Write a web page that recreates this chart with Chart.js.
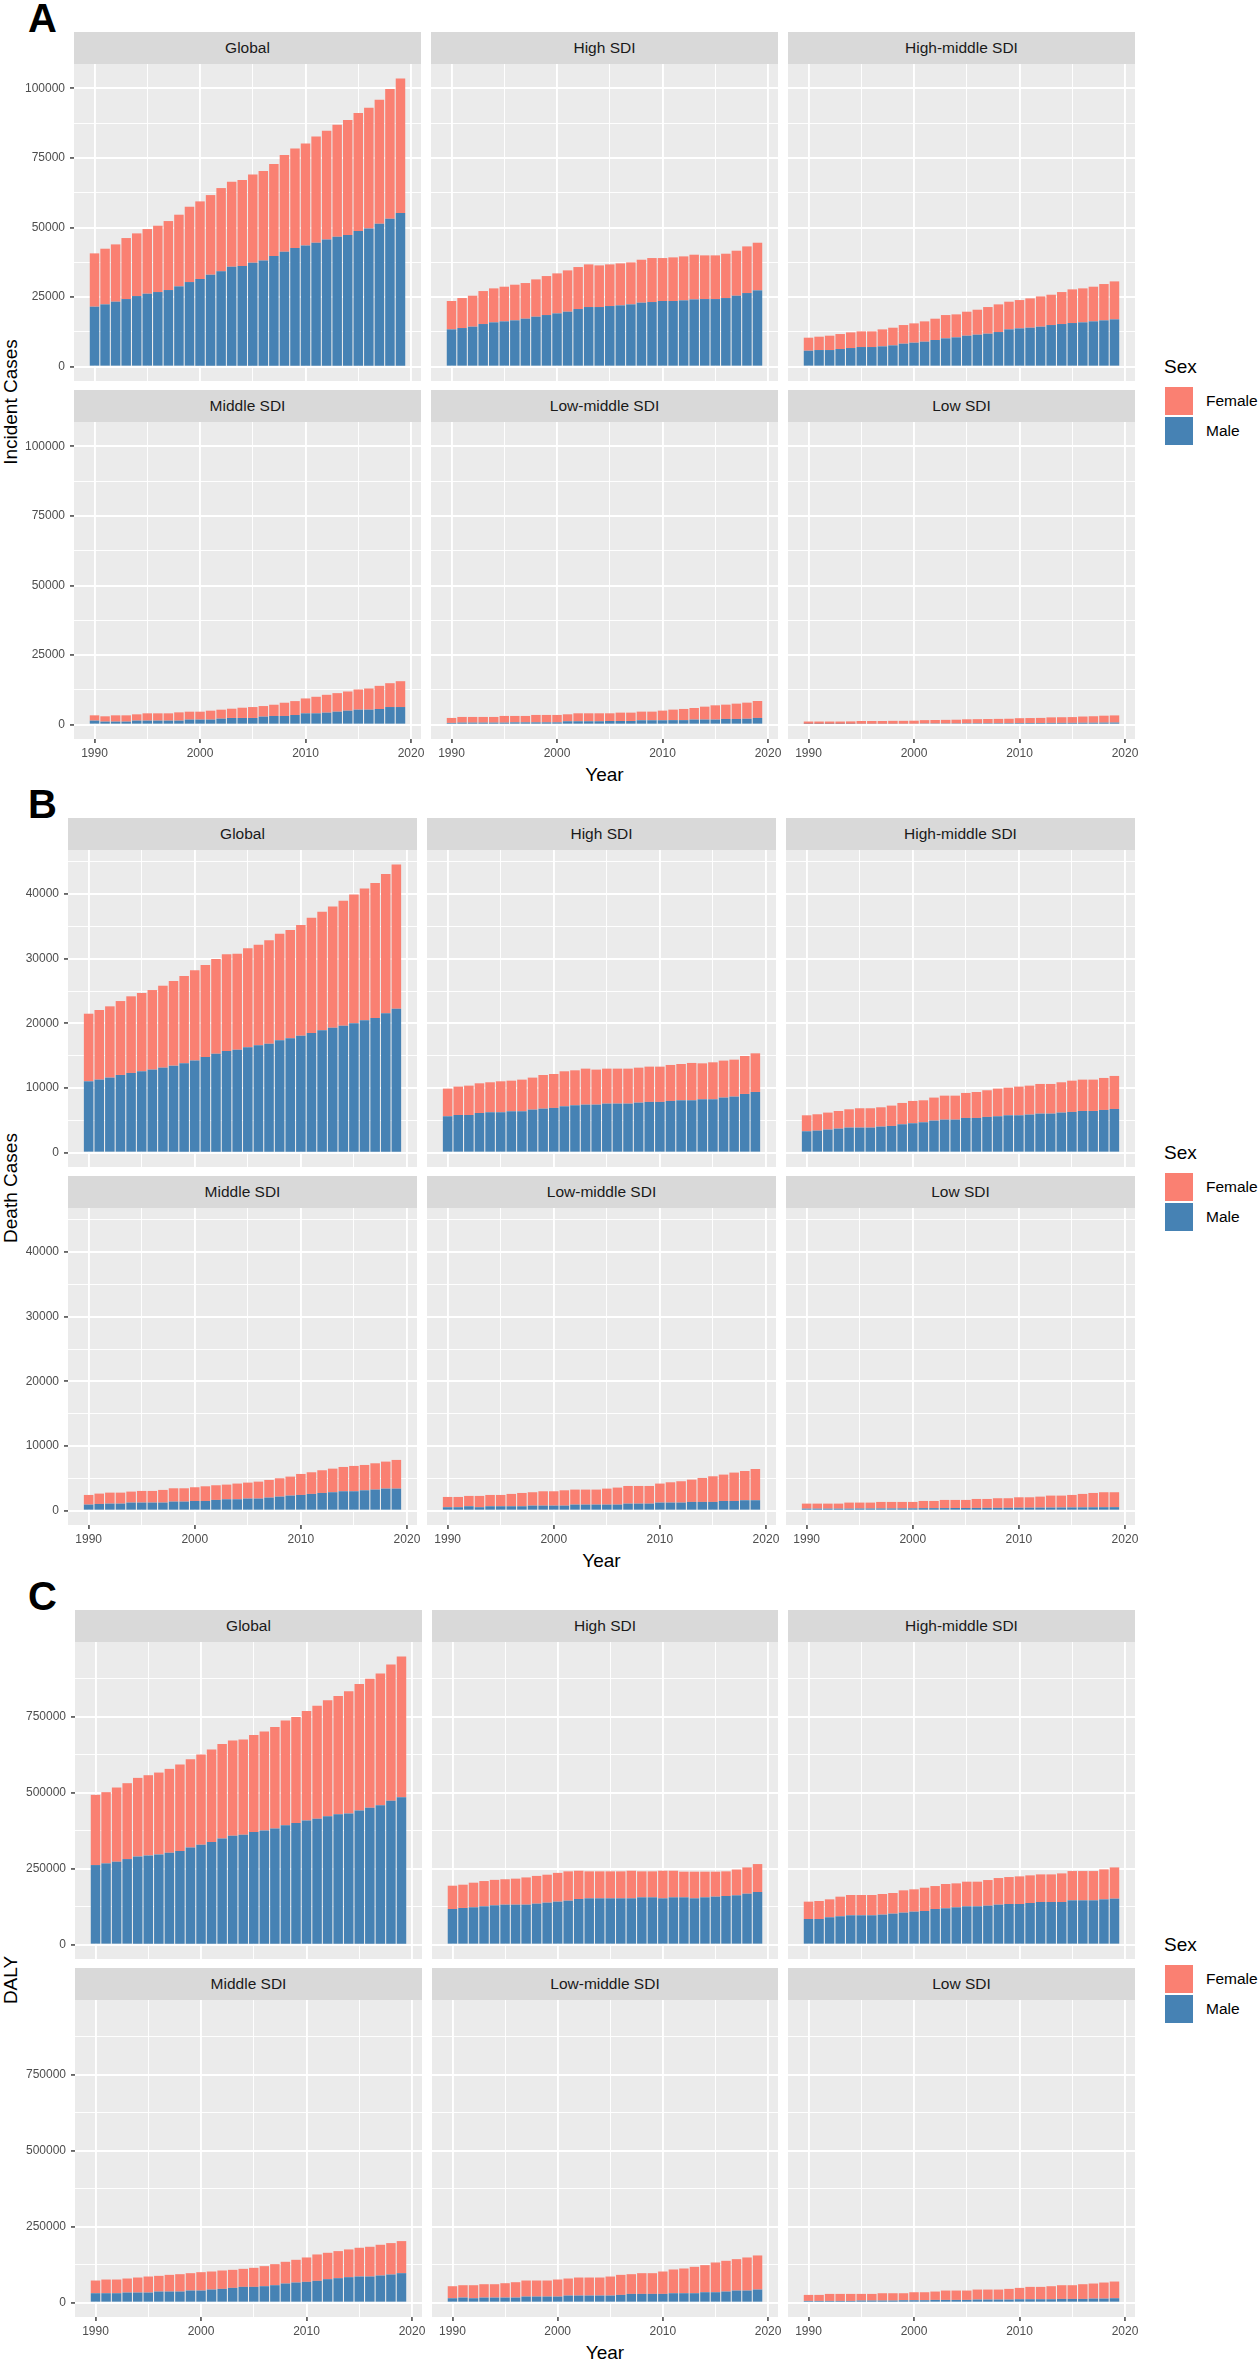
<!DOCTYPE html>
<html>
<head>
<meta charset="utf-8">
<script src="https://cdn.jsdelivr.net/npm/chart.js@4.4.1/dist/chart.umd.min.js"></script>
<style>
html,body{margin:0;padding:0;background:#fff;}
#root{position:relative;width:1259px;height:2362px;overflow:hidden;font-family:'Liberation Sans',Arial,Helvetica,sans-serif;}
.strip{position:absolute;background:#D9D9D9;color:#1A1A1A;font-size:15.5px;display:flex;align-items:center;justify-content:center;white-space:nowrap;}
.letter{position:absolute;font-weight:bold;font-size:40px;line-height:40px;color:#000;}
.ytitle{position:absolute;font-size:19px;color:#000;white-space:nowrap;transform:translate(-50%,-50%) rotate(-90deg);}
.xtitle{position:absolute;font-size:19px;color:#000;white-space:nowrap;transform:translate(-50%,-50%);}
.legtitle{position:absolute;font-size:19px;color:#000;white-space:nowrap;transform:translateY(-50%);}
.legtext{position:absolute;font-size:15.5px;color:#000;white-space:nowrap;transform:translateY(-50%);}
.legkey{position:absolute;width:28px;height:28px;}
canvas{position:absolute;}
</style>
</head>
<body>
<div id="root"></div>
<script>
// ---------- DATA ----------
const years = [1990,1991,1992,1993,1994,1995,1996,1997,1998,1999,2000,2001,2002,2003,2004,2005,2006,2007,2008,2009,2010,2011,2012,2013,2014,2015,2016,2017,2018,2019];
const regions = ['Global','High SDI','High-middle SDI','Middle SDI','Low-middle SDI','Low SDI'];
const sexLabels = ['Female','Male'];
const yearTicks = [1990, 2000, 2010, 2020];
const incidentTicks = [0, 25000, 50000, 75000, 100000];
const deathTicks = [0, 10000, 20000, 30000, 40000];
const dalyTicks = [0, 250000, 500000, 750000];

// A: Incident Cases
const incGlobalMale = [21530,22370,23330,24280,25360,26200,26800,27520,28840,30390,31470,33030,34230,35910,36150,37340,38180,39740,41300,42620,43570,44530,45730,46690,47290,48720,49680,51360,53160,55190];
const incGlobalFemale = [19170,20010,20600,21930,22530,23240,23840,24800,25760,27080,27920,28630,29950,30550,30910,31750,32110,33070,34740,35820,36660,38220,39060,40250,41330,42420,43370,44570,46600,48410];
const incHighMale = [13380,13860,14340,15300,15900,16260,16620,17220,17930,18530,19130,19730,20690,21410,21410,21770,22010,22370,22970,23210,23570,23570,23810,24160,24280,24280,24640,25480,26440,27400];
const incHighFemale = [10190,10780,11140,11860,12220,12460,12820,12820,13420,14020,14380,14860,15100,15330,14970,14970,15090,15090,15450,15810,15450,15690,15810,16060,15700,15700,15940,16180,16770,17130];
const incHighMidMale = [5710,5950,5950,6310,6670,7030,7030,7270,7630,8230,8590,8950,9550,10150,10510,11110,11470,11830,12420,13380,13740,13980,14340,14940,15300,15660,15900,16260,16620,16980];
const incHighMidFemale = [4680,4800,5160,5390,5630,5630,5630,6110,6350,6710,6950,7310,7670,8380,8260,8620,8980,9580,9950,9950,10180,10540,10900,10900,11500,12100,12220,12460,13060,13650];
const incMiddleMale = [1430,1070,1070,1070,1430,1430,1430,1430,1430,1790,1790,1790,2140,2380,2380,2380,2860,3100,3100,3450,4050,4050,4290,4640,5000,5360,5360,5600,6310,6310];
const incMiddleFemale = [1900,1910,2260,2260,2260,2620,2620,2620,2970,2850,2850,3210,3220,3330,3690,3930,3810,4040,4760,5000,5350,5950,6420,6670,6900,7260,7620,8330,8570,9290];
const incLowMidMale = [600,700,700,700,700,700,800,800,800,800,800,1200,1200,1200,1200,1300,1300,1300,1550,1550,1550,1600,1600,1800,1800,1800,2030,2030,2100,2390];
const incLowMidFemale = [1790,2050,2050,2050,2050,2410,2310,2310,2670,2670,2670,2500,2860,2860,2860,2760,3000,3000,3110,3110,3470,3780,4020,4170,4650,5130,5140,5500,5790,6090];
const incLowMale = [250,250,250,250,260,300,300,300,300,310,320,420,430,440,450,480,490,500,510,520,560,570,580,600,610,620,650,660,700,720];
const incLowFemale = [850,850,850,850,890,1000,1000,1000,1050,1040,1080,1180,1220,1260,1300,1420,1460,1500,1540,1580,1740,1780,1820,2000,2040,2080,2250,2340,2500,2580];

// B: Death Cases
const dthGlobalMale = [11030,11290,11600,12010,12320,12580,12840,13140,13450,13810,14230,14790,15310,15720,15930,16290,16600,16860,17370,17680,18090,18510,18920,19330,19640,20000,20460,20820,21550,22270];
const dthGlobalFemale = [10460,10770,11030,11440,11860,12110,12310,12680,13100,13510,13970,14230,14640,14950,14840,15310,15560,15980,16500,16750,17120,17830,18350,18760,19330,19950,20420,20880,21540,22320];
const dthHighMale = [5620,5820,5820,6130,6240,6240,6390,6390,6650,6800,6910,7160,7320,7420,7420,7580,7580,7580,7730,7840,7840,7990,8090,8090,8250,8250,8510,8660,9070,9380];
const dthHighFemale = [4280,4390,4540,4590,4640,4790,4740,4900,4950,5210,5250,5420,5410,5570,5420,5410,5410,5410,5410,5460,5460,5570,5620,5780,5560,5720,5720,5720,5880,5980];
const dthHighMidMale = [3300,3400,3560,3710,3870,3870,3870,4020,4120,4380,4540,4690,4950,5100,5100,5360,5360,5520,5620,5770,5770,5880,6030,6030,6190,6290,6440,6440,6600,6750];
const dthHighMidFemale = [2470,2530,2630,2730,2830,2990,2990,2990,3150,3300,3450,3400,3560,3710,3710,3870,4020,4120,4280,4280,4440,4480,4590,4590,4690,4840,4850,4850,4950,5110];
const dthMiddleMale = [930,1030,1080,1080,1240,1240,1240,1240,1390,1390,1490,1490,1650,1750,1750,1860,1860,2010,2160,2320,2420,2580,2730,2840,2990,2990,3140,3250,3400,3400];
const dthMiddleFemale = [1490,1600,1700,1700,1700,1800,1800,1960,2060,2060,2120,2270,2270,2270,2430,2470,2620,2730,2840,2940,3250,3350,3510,3650,3760,3920,3920,4070,4180,4440];
const dthLowMidMale = [520,520,670,520,670,670,670,670,770,770,770,770,930,930,930,930,930,1080,1080,1080,1240,1240,1240,1340,1340,1340,1490,1490,1600,1600];
const dthLowMidFemale = [1590,1590,1600,1750,1750,1750,1910,2060,2070,2220,2220,2370,2320,2320,2320,2470,2630,2730,2730,2730,2940,3140,3300,3450,3710,3970,4080,4390,4530,4840];
const dthLowMale = [300,300,300,300,300,320,320,330,330,340,350,380,380,390,400,400,410,420,420,430,440,450,460,470,480,490,500,510,520,530];
const dthLowFemale = [780,780,780,780,940,920,920,1010,1010,1000,990,1110,1110,1260,1250,1250,1390,1380,1490,1480,1620,1610,1700,1850,1840,1930,2080,2220,2320,2310];

// C: DALY
const dalyGlobalMale = [261700,267200,272700,281400,290200,293500,296700,302200,307700,319700,328500,337300,349300,358100,361400,370100,375600,382200,393100,399700,408400,413900,422700,429200,431400,441300,450000,458800,473000,485100];
const dalyGlobalFemale = [231100,234400,244200,249700,258400,263900,269400,276000,284700,290200,296700,304400,311000,313100,313100,319800,325200,333900,343900,349300,360300,372300,381000,388800,401900,416100,424900,433600,449000,463200];
const dalyHighMale = [117200,120500,122600,125900,129200,131400,131400,131400,134700,138000,141300,144500,150000,152200,152200,152200,152200,152200,155500,155500,152200,155500,155500,152200,155500,157700,159900,162100,167500,173000];
const dalyHighFemale = [76600,76600,81100,83200,83800,83600,85600,89600,91300,92000,94700,96500,93000,88800,88800,88800,88800,90800,85500,85500,90800,87500,84500,87800,84500,82300,81100,84900,86500,92000];
const dalyHighMidMale = [84300,84300,89800,93100,96400,96400,96400,98600,101800,105100,108400,110600,117200,119400,122600,125900,125900,128100,131400,133600,133600,136900,140200,140200,140200,145600,145600,145600,148900,151100];
const dalyHighMidFemale = [57000,59100,59100,64600,66800,66800,66800,67800,67900,73400,73400,76600,75500,79900,78900,81100,81100,84300,87600,88700,90900,90900,90800,90800,94100,96400,96400,96400,98600,102900];
const dalyMiddleMale = [30800,30800,30800,33000,33000,33000,36300,36300,36300,39600,39600,42900,45100,48400,51700,51700,53900,57200,62700,66000,68200,71500,77000,80300,83600,85800,85800,89100,92400,96800];
const dalyMiddleFemale = [41800,45100,45100,46200,49500,52800,51700,55000,57200,57200,60500,59400,60500,59400,59400,62700,66000,69300,71500,74800,80300,86900,86900,89100,91300,94600,97900,101200,103400,105600];
const dalyLowMidMale = [14300,16500,14300,16500,16500,16500,16500,19800,19800,19800,19800,23100,23100,23100,23100,23100,25300,28600,28600,28600,28600,30800,30800,30800,34100,34100,36300,39600,39600,42900];
const dalyLowMidFemale = [39600,40700,42900,44000,44000,47300,50600,52800,52800,52800,56100,56100,59400,59400,59400,62700,66000,64900,68200,68200,73700,78100,81400,86900,89100,97900,101200,103400,108900,112200];
const dalyLowMale = [5500,5500,5500,5500,5500,6600,6600,6600,6600,7700,7700,7700,8800,8800,8800,8800,9900,9900,9900,9900,11000,11000,11000,11000,12100,12100,12100,13200,13200,14300];
const dalyLowFemale = [19800,19800,23100,23100,23100,22000,22000,24200,24200,23100,26400,26400,27500,30800,30800,30800,33000,33000,33000,35200,37400,40700,40700,42900,45100,45100,48400,49500,52800,55000];

// ---------- BUILD ----------
const sections = [
  {letter:'A', title:'Incident Cases', top:0, plotLeft:74, ticks:incidentTicks,
   series:[[incGlobalMale,incGlobalFemale],[incHighMale,incHighFemale],[incHighMidMale,incHighMidFemale],[incMiddleMale,incMiddleFemale],[incLowMidMale,incLowMidFemale],[incLowMale,incLowFemale]]},
  {letter:'B', title:'Death Cases', top:786, plotLeft:68, ticks:deathTicks,
   series:[[dthGlobalMale,dthGlobalFemale],[dthHighMale,dthHighFemale],[dthHighMidMale,dthHighMidFemale],[dthMiddleMale,dthMiddleFemale],[dthLowMidMale,dthLowMidFemale],[dthLowMale,dthLowFemale]]},
  {letter:'C', title:'DALY', top:1578, plotLeft:75, ticks:dalyTicks,
   series:[[dalyGlobalMale,dalyGlobalFemale],[dalyHighMale,dalyHighFemale],[dalyHighMidMale,dalyHighMidFemale],[dalyMiddleMale,dalyMiddleFemale],[dalyLowMidMale,dalyLowMidFemale],[dalyLowMale,dalyLowFemale]]}
];

const FEMALE = '#FA8072', MALE = '#4682B4';
const STRIP_H = 32, PLOT_H = 317, ROW_TOP = [32, 390], RIGHT = 1135, GAP = 10;
const PAD_R = 12, PAD_V = 16, XAX_H = 40;
const root = document.getElementById('root');
Chart.defaults.font.family = "'Liberation Sans', Arial, Helvetica, sans-serif";

function el(cls, txt, css){ const d=document.createElement('div'); d.className=cls; if(txt!==null) d.textContent=txt; Object.assign(d.style,css); root.appendChild(d); return d; }

const bgPlugin = { id:'panelbg', beforeDraw(chart){ const a=chart.chartArea; const c=chart.ctx; c.save(); c.fillStyle='#EBEBEB'; c.fillRect(a.left,a.top,a.right-a.left,a.bottom-a.top); c.restore(); } };

// x range: bar extents expanded by 5% (ggplot default)
const xSpan = years[years.length-1]-years[0]+0.9;
const xMin = years[0] - 0.45 - 0.05*xSpan;
const xMax = years[years.length-1] + 0.45 + 0.05*xSpan;
// major year ticks plus the minor ones halfway between them
const xGridValues = [];
yearTicks.forEach((v,k)=>{ xGridValues.push(v); if (k < yearTicks.length-1) xGridValues.push((v + yearTicks[k+1])/2); });

sections.forEach(sec => {
  let dmax = 0;
  sec.series.forEach(([m,f]) => m.forEach((v,k)=>{ dmax = Math.max(dmax, v + f[k]); }));
  const yMin = -0.05*dmax, yMax = 1.05*dmax;
  const half = (sec.ticks[1]-sec.ticks[0])/2;
  const yGridValues = [];
  sec.ticks.forEach(v=>{ yGridValues.push(v); if (v + half <= yMax) yGridValues.push(v + half); });
  const plotW = (RIGHT - sec.plotLeft - 2*GAP)/3;

  el('letter', sec.letter, {left:'28px', top:(sec.top-2)+'px'});
  el('ytitle', sec.title, {left:'11px', top:(sec.top + (ROW_TOP[0]+STRIP_H + ROW_TOP[1]+STRIP_H+PLOT_H)/2)+'px'});
  el('xtitle', 'Year', {left:((sec.plotLeft+RIGHT)/2)+'px', top:(sec.top+775)+'px'});
  el('legtitle', 'Sex', {left:'1164px', top:(sec.top+367)+'px'});
  el('legkey', null, {left:'1165px', top:(sec.top+387)+'px', background:FEMALE});
  el('legkey', null, {left:'1165px', top:(sec.top+417)+'px', background:MALE});
  el('legtext', sexLabels[0], {left:'1206px', top:(sec.top+401)+'px'});
  el('legtext', sexLabels[1], {left:'1206px', top:(sec.top+431)+'px'});

  sec.series.forEach(([male,female], i) => {
    const row = Math.floor(i/3), col = i%3;
    const px = Math.round(sec.plotLeft + col*(plotW+GAP));
    const pw = Math.round(sec.plotLeft + col*(plotW+GAP) + plotW) - px;
    const stripTop = sec.top + ROW_TOP[row];
    const plotTop = stripTop + STRIP_H;
    el('strip', regions[i], {left:px+'px', top:stripTop+'px', width:pw+'px', height:STRIP_H+'px'});

    const isLeft = col===0, isBottom = row===1;
    const leftSpace = isLeft ? px : 0;
    const cv = document.createElement('canvas');
    const cw = leftSpace + pw + PAD_R;
    const ch = PAD_V + PLOT_H + (isBottom ? XAX_H : PAD_V);
    cv.width = cw; cv.height = ch;
    cv.style.left = (isLeft ? 0 : px)+'px'; cv.style.top = (plotTop - PAD_V)+'px';
    cv.style.width = cw+'px'; cv.style.height = ch+'px';
    root.appendChild(cv);

    const xMajor = v => yearTicks.includes(v);
    const yMajor = v => sec.ticks.includes(v);

    new Chart(cv, {
      type:'bar',
      data:{ datasets:[
        {label:sexLabels[1], data:years.map((y,k)=>({x:y,y:male[k]})), backgroundColor:MALE, borderWidth:0, categoryPercentage:1, barPercentage:0.9, stack:'s'},
        {label:sexLabels[0], data:years.map((y,k)=>({x:y,y:female[k]})), backgroundColor:FEMALE, borderWidth:0, categoryPercentage:1, barPercentage:0.9, stack:'s'}
      ]},
      options:{
        responsive:false, animation:false, events:[], devicePixelRatio:1,
        layout:{padding:{left:0,right:PAD_R,top:PAD_V,bottom:isBottom?0:PAD_V}},
        plugins:{legend:{display:false}, tooltip:{enabled:false}, title:{display:false}},
        scales:{
          x:{ type:'linear', stacked:true, offset:false, min:xMin, max:xMax,
              border:{display:false},
              afterBuildTicks:s=>{ s.ticks = xGridValues.map(v=>({value:v})); },
              grid:{ offset:false, color:'#FFFFFF', lineWidth:c=>(c.tick && xMajor(c.tick.value))?1.9:0.95,
                     drawTicks:isBottom, tickLength:4, tickWidth:1.4,
                     tickColor:c=>(c.tick && xMajor(c.tick.value))?'#333333':'rgba(0,0,0,0)' },
              ticks:{ display:isBottom, autoSkip:false, maxRotation:0, minRotation:0,
                      padding:3, color:'#4D4D4D', font:{size:12}, callback:function(v){ return xMajor(v) ? String(v) : ''; } },
              afterFit:s=>{ s.height = isBottom ? XAX_H : 0; } },
          y:{ type:'linear', stacked:true, min:yMin, max:yMax,
              border:{display:false},
              afterBuildTicks:s=>{ s.ticks = yGridValues.map(v=>({value:v})); },
              grid:{ color:'#FFFFFF', lineWidth:c=>(c.tick && yMajor(c.tick.value))?1.9:0.95,
                     drawTicks:isLeft, tickLength:4, tickWidth:1.4,
                     tickColor:c=>(c.tick && yMajor(c.tick.value))?'#333333':'rgba(0,0,0,0)' },
              ticks:{ display:isLeft, autoSkip:false, padding:5, color:'#4D4D4D', font:{size:12},
                      callback:function(v){ return yMajor(v) ? String(v) : ''; } },
              afterFit:s=>{ s.width = leftSpace; } }
        }
      },
      plugins:[bgPlugin]
    });
  });
});
</script>
</body>
</html>
